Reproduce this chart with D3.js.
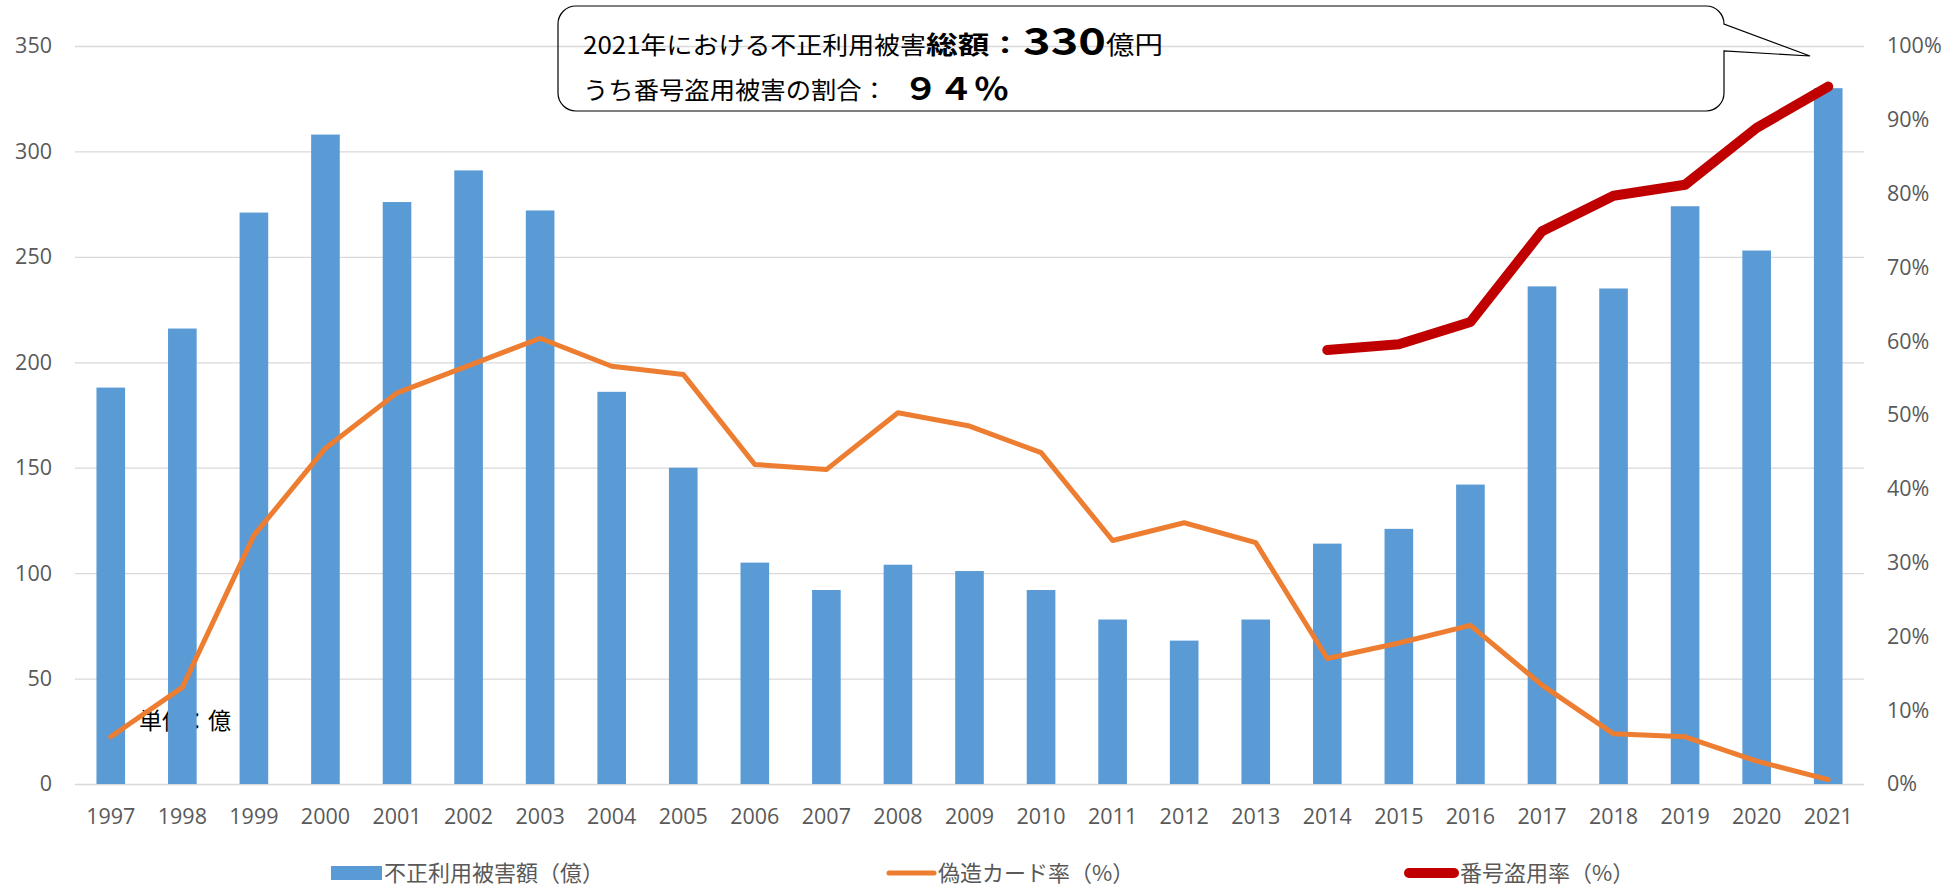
<!DOCTYPE html>
<html>
<head>
<meta charset="utf-8">
<script src="https://cdn.jsdelivr.net/npm/d3@7"></script>
<style>
  body { margin: 0; background: #fff; }
  #graphic { width: 1957px; height: 888px; }
  .axis text { font-family: "Open Sans", "Noto Sans", sans-serif; font-size: 21.5px; fill: #595959; }
  .axis .domain { display: none; }
  .grid line { stroke: #D9D9D9; stroke-width: 1.3; }
  .grid .domain { display: none; }
  .jp { font-family: "Noto Sans CJK JP", sans-serif; }
</style>
</head>
<body>
<div id="graphic"></div>
<script>
// data
const years = ["1997","1998","1999","2000","2001","2002","2003","2004","2005","2006","2007","2008","2009",
  "2010","2011","2012","2013","2014","2015","2016","2017","2018","2019","2020","2021"];
// 不正利用被害額（億）
const damage = [188, 216, 271, 308, 276, 291, 272, 186, 150, 105, 92, 104, 101,
  92, 78, 68, 78, 114, 121, 142, 236, 235, 274, 253, 330];
// 偽造カード率（%）
const counterfeitRate = [6.4, 13.1, 33.7, 45.5, 53.0, 56.7, 60.4, 56.6, 55.5, 43.3, 42.6, 50.3, 48.5,
  44.9, 33.0, 35.4, 32.7, 17.0, 19.1, 21.5, 13.4, 6.8, 6.4, 3.1, 0.6];
// 番号盗用率（%） - only reported from 2014
const theftYears = ["2014","2015","2016","2017","2018","2019","2020","2021"];
const theftRate = [58.8, 59.6, 62.6, 74.9, 79.7, 81.2, 88.9, 94.5];

const leftTicks = [0, 50, 100, 150, 200, 250, 300, 350];
const rightTicks = [0, 10, 20, 30, 40, 50, 60, 70, 80, 90, 100];

const legendLabels = ["不正利用被害額（億）", "偽造カード率（%）", "番号盗用率（%）"];
const unitLabel = "単位：億";

const Chart = {
  barColor: "#5B9BD5",
  fakeColor: "#ED7D31",
  theftColor: "#C00000",
  outerWidth: 1957,
  outerHeight: 888,
  margin: { left: 75, right: 93, top: 46, bottom: 104 },
  el: "#graphic",
  parameters(){
    this.width = this.outerWidth - this.margin.left - this.margin.right;
    this.height = this.outerHeight - this.margin.top - this.margin.bottom;
  },
  createScales(){
    this.xScale = d3.scaleBand()
      .domain(years)
      .range([0, this.width])
      .paddingInner(0.6)
      .paddingOuter(0.3);

    this.yScale = d3.scaleLinear()
      .domain([0, 350])
      .range([this.height, 0]);

    this.y2Scale = d3.scaleLinear()
      .domain([0, 100])
      .range([this.height, 0]);
  },
  drawPlot(){
    document.querySelector(this.el).innerHTML = "";
    this.svg = d3.select(this.el)
      .append("svg")
      .attr("width", this.outerWidth)
      .attr("height", this.outerHeight);

    this.plot = this.svg.append("g")
      .attr("transform", `translate(${this.margin.left}, ${this.margin.top})`);
  },
  drawGrid(){
    this.yGrid = d3.axisLeft()
      .scale(this.yScale)
      .tickValues(leftTicks)
      .tickSize(-this.width)
      .tickFormat("");

    this.plot.append("g")
      .attr("class", "grid")
      .call(this.yGrid);
  },
  drawUnit(){
    // sits under the bars, like in the original
    this.plot.append("text")
      .attr("class", "jp")
      .attr("x", this.xScale("1997") + this.xScale.bandwidth() + 14)
      .attr("y", this.yScale(26))
      .attr("font-size", 23)
      .attr("fill", "#000")
      .text(unitLabel);
  },
  drawBars(){
    this.plot.selectAll("rect.bar")
        .data(years)
      .enter().append("rect")
        .attr("class", "bar")
        .attr("x", d => this.xScale(d))
        .attr("width", this.xScale.bandwidth())
        .attr("y", (d, i) => this.yScale(damage[i]))
        .attr("height", (d, i) => this.height - this.yScale(damage[i]))
        .attr("fill", this.barColor);
  },
  drawLines(){
    const half = this.xScale.bandwidth() / 2;

    const fakeLine = d3.line()
      .x((d, i) => this.xScale(years[i]) + half)
      .y(d => this.y2Scale(d));

    this.plot.append("path")
      .datum(counterfeitRate)
      .style("fill", "none")
      .style("stroke-linecap", "round")
      .style("stroke-linejoin", "round")
      .attr("stroke", this.fakeColor)
      .attr("stroke-width", 5)
      .attr("d", fakeLine);

    const theftLine = d3.line()
      .x((d, i) => this.xScale(theftYears[i]) + half)
      .y(d => this.y2Scale(d));

    this.plot.append("path")
      .datum(theftRate)
      .style("fill", "none")
      .style("stroke-linecap", "round")
      .style("stroke-linejoin", "round")
      .attr("stroke", this.theftColor)
      .attr("stroke-width", 10)
      .attr("d", theftLine);
  },
  drawAxes(){
    this.yAxis = d3.axisLeft()
      .scale(this.yScale)
      .tickValues(leftTicks)
      .tickSize(0)
      .tickPadding(23);

    this.y2Axis = d3.axisRight()
      .scale(this.y2Scale)
      .tickValues(rightTicks)
      .tickSize(0)
      .tickPadding(23)
      .tickFormat(d => d + "%");

    this.xAxis = d3.axisBottom()
      .scale(this.xScale)
      .tickSize(0)
      .tickPadding(25);

    this.plot.append("g")
      .attr("class", "axis yaxis")
      .call(this.yAxis);

    this.plot.append("g")
      .attr("class", "axis y2axis")
      .attr("transform", `translate(${this.width}, 0)`)
      .call(this.y2Axis);

    this.plot.append("g")
      .attr("class", "axis xaxis")
      .attr("transform", `translate(0, ${this.height})`)
      .call(this.xAxis);
  },
  drawCallout(){
    // speech bubble, top of chart
    const c = { left: 558, top: 6, right: 1724, bottom: 111, r: 18,
      baseTop: 24, baseBottom: 51, tipX: 1810, tipY: 56 };
    const p = d3.path();
    p.moveTo(c.left + c.r, c.top);
    p.lineTo(c.right - c.r, c.top);
    p.arcTo(c.right, c.top, c.right, c.top + c.r, c.r);
    p.lineTo(c.right, c.baseTop);
    p.lineTo(c.tipX, c.tipY);
    p.lineTo(c.right, c.baseBottom);
    p.lineTo(c.right, c.bottom - c.r);
    p.arcTo(c.right, c.bottom, c.right - c.r, c.bottom, c.r);
    p.lineTo(c.left + c.r, c.bottom);
    p.arcTo(c.left, c.bottom, c.left, c.bottom - c.r, c.r);
    p.lineTo(c.left, c.top + c.r);
    p.arcTo(c.left, c.top, c.left + c.r, c.top, c.r);
    p.closePath();

    this.svg.append("path")
      .attr("d", p.toString())
      .attr("fill", "none")
      .attr("stroke", "#000")
      .attr("stroke-width", 1.2);

    const pieces = [
      { t: "2021年における不正利用被害", x: 583, y: 54, size: 24, w: 400, len: 343 },
      { t: "総額：", x: 926, y: 54, size: 25, w: 700, len: 95 },
      { t: "330", x: 1023, y: 55, size: 38, w: 700, len: 83 },
      { t: "億円", x: 1106, y: 54, size: 25, w: 400, len: 57 },
      { t: "うち番号盗用被害の割合：", x: 583, y: 99, size: 24, w: 400, len: 304 },
      { t: "９４％", x: 903, y: 100, size: 31, w: 700, len: 106 }
    ];

    this.svg.selectAll("text.callout")
        .data(pieces)
      .enter().append("text")
        .attr("class", "callout jp")
        .attr("x", d => d.x)
        .attr("y", d => d.y)
        .attr("font-size", d => d.size)
        .attr("font-weight", d => d.w)
        .attr("textLength", d => d.len)
        .attr("lengthAdjust", "spacingAndGlyphs")
        .attr("fill", "#000")
        .text(d => d.t);
  },
  drawLegend(){
    const lg = this.svg.append("g").attr("class", "legend jp");
    const cy = 873;

    lg.append("rect")
      .attr("x", 331).attr("y", cy - 7)
      .attr("width", 51).attr("height", 14)
      .attr("fill", this.barColor);

    lg.append("line")
      .attr("x1", 889).attr("x2", 934)
      .attr("y1", cy).attr("y2", cy)
      .attr("stroke", this.fakeColor)
      .attr("stroke-width", 5)
      .style("stroke-linecap", "round");

    lg.append("line")
      .attr("x1", 1409).attr("x2", 1454)
      .attr("y1", cy).attr("y2", cy)
      .attr("stroke", this.theftColor)
      .attr("stroke-width", 10)
      .style("stroke-linecap", "round");

    const textX = [384, 938, 1460];
    lg.selectAll("text")
        .data(legendLabels)
      .enter().append("text")
        .attr("x", (d, i) => textX[i])
        .attr("y", cy + 8)
        .attr("font-size", 22)
        .attr("fill", "#595959")
        .text(d => d);
  },
  draw(){
    this.parameters();
    this.createScales();
    this.drawPlot();
    this.drawGrid();
    this.drawUnit();
    this.drawBars();
    this.drawLines();
    this.drawAxes();
    this.drawCallout();
    this.drawLegend();
  }
};

Chart.draw();
</script>
</body>
</html>
